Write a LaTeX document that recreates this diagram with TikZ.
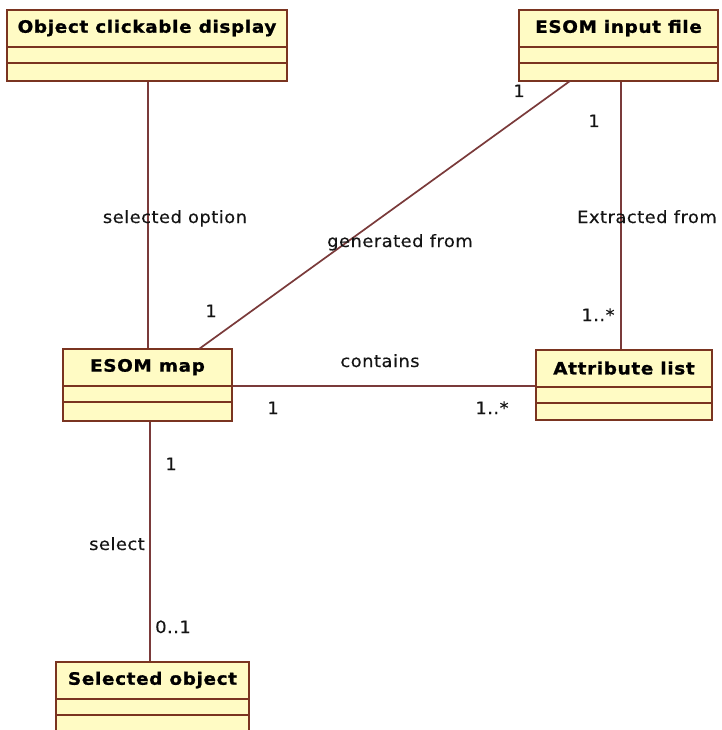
\documentclass[tikz,border=0pt]{standalone}
\usepackage{fontspec}
\usetikzlibrary{fit,calc}
\newfontfamily\classfont{DejaVu Sans}[FakeStretch=1.08,LetterSpace=4,BoldFeatures={FakeBold=1.2}]
\newfontfamily\labelfont{DejaVu Sans}[FakeStretch=1.05,LetterSpace=3,FakeBold=0.3]
\definecolor{classfill}{RGB}{255,251,196}
\definecolor{classedge}{RGB}{122,52,32}
\definecolor{assoc}{RGB}{122,58,58}
\definecolor{labeltext}{RGB}{20,20,20}

% A UML class box: name, left, top, right, bottom, title
\newcommand\umlclass[6]{%
  \node[classbox, fit={(#2,#3) (#4,#5)}] (#1) {};
  \node[classtitle] (#1-title) at ($(#1.north)+(0,19)$) {#6};
  \draw[classedge, line width=1.8pt] ($(#1.north west)+(0,38)$) -- ($(#1.north east)+(0,38)$);
  \draw[classedge, line width=1.8pt] ($(#1.north west)+(0,54)$) -- ($(#1.north east)+(0,54)$);
}

\begin{document}
\begin{tikzpicture}[x=1pt,y=-1pt,
    classbox/.style={draw=classedge, fill=classfill, line width=1.8pt, inner sep=0pt, rectangle},
    classtitle/.style={font=\classfont\bfseries\fontsize{17}{20}\selectfont, text=black, inner sep=0pt},
    link/.style={draw=assoc, line width=1.7pt},
    role/.style={font=\labelfont\fontsize{17}{20}\selectfont, text=labeltext, inner sep=0pt},
    mult/.style={font=\labelfont\fontsize{17}{20}\selectfont, text=labeltext, inner sep=0pt}]
  \useasboundingbox (0,0) rectangle (721,730);
  \fill[white] (0,0) rectangle (721,730);
  \clip (0,0) rectangle (721,730);

  % classes
  \umlclass{display}{7}{10}{287}{81}{Object clickable display}
  \umlclass{input}{519}{10}{718}{81}{ESOM input file}
  \umlclass{map}{63}{349}{232}{421}{ESOM map}
  \umlclass{attrs}{536}{350}{712}{420}{Attribute list}
  \umlclass{selected}{56}{662}{249}{740}{Selected object}

  % association end points
  \coordinate (genA) at (570,81);
  \coordinate (genB) at (199,349);

  % associations
  \draw[link] (display.south -| 148,0) -- (map.north -| 148,0);
  \draw[link] (genA) -- (genB);
  \draw[link] (input.south -| 621,0) -- (attrs.north -| 621,0);
  \draw[link] (map.east |- 0,386) -- (attrs.west |- 0,386);
  \draw[link] (map.south -| 150,0) -- (selected.north -| 150,0);

  % association names
  \node[role, anchor=base] (lblsel) at (175,223) {selected option};
  \node[role, anchor=base] (lblgen) at (400,247) {generated from};
  \node[role, anchor=base] (lblext) at (647,223) {Extracted from};
  \node[role, anchor=base] (lblcon) at (380,367) {contains};
  \node[role, anchor=base] (lblsl) at (117,550) {select};

  % multiplicities
  \node[mult, anchor=base] (m1) at (519,97) {1};
  \node[mult, anchor=base] (m2) at (594,127) {1};
  \node[mult, anchor=base] (m3) at (211,317) {1};
  \node[mult, anchor=base] (m4) at (598,321) {1..*};
  \node[mult, anchor=base] (m5) at (273,414) {1};
  \node[mult, anchor=base] (m6) at (492,414) {1..*};
  \node[mult, anchor=base] (m7) at (171,470) {1};
  \node[mult, anchor=base] (m8) at (173,633) {0..1};
\end{tikzpicture}
\end{document}
